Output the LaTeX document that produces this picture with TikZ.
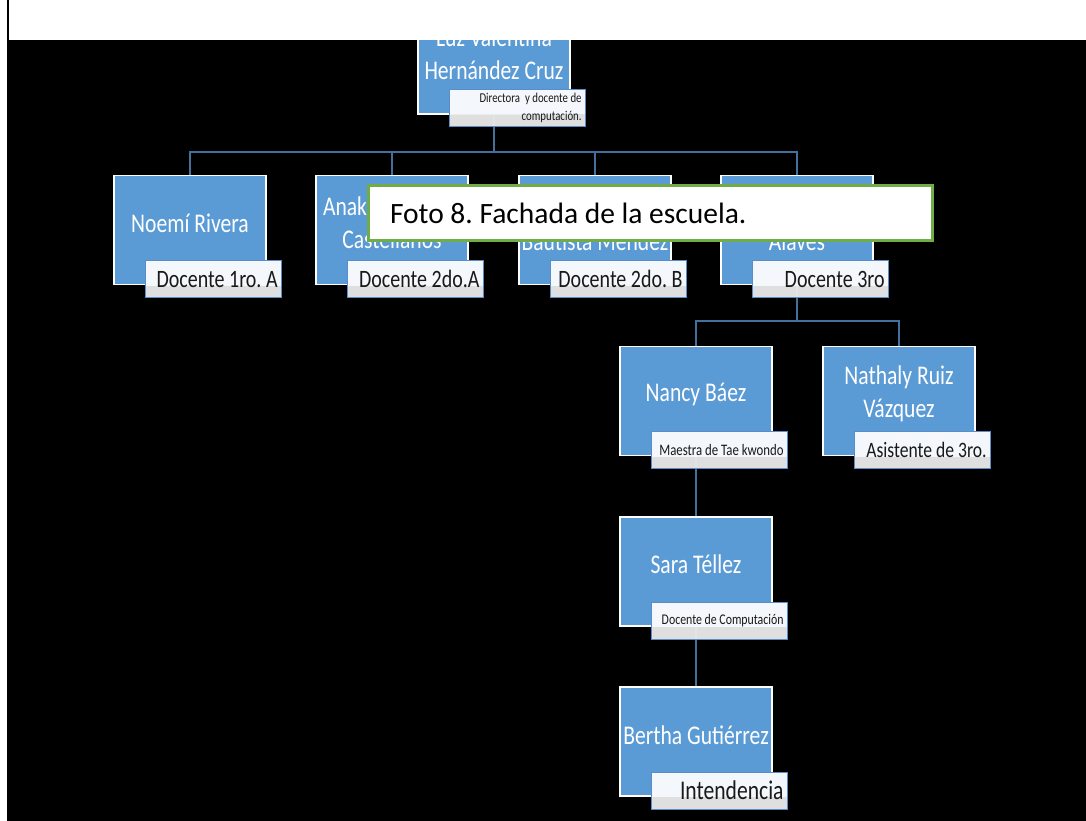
\documentclass[tikz,border=0pt]{standalone}
\usepackage{fontspec}
\setmainfont{Carlito}
\newfontfamily\chartfont[FakeStretch=0.8]{Carlito}
\frenchspacing
\definecolor{boxblue}{HTML}{5B9BD5}
\definecolor{linkblue}{HTML}{41719C}
\definecolor{tagtop}{HTML}{F5F8FD}
\definecolor{taggray}{HTML}{EBEBEB}
\definecolor{tagline}{HTML}{5A8CC8}
\definecolor{capgreen}{HTML}{70AD47}

\begin{document}
\begin{tikzpicture}[x=1pt,y=-1pt]
            \tikzstyle{Box} = [draw=white, line width=1.2pt, fill=boxblue, minimum width=152pt, minimum height=109pt, inner sep=0pt]
            \tikzstyle{Name} = [text=white, inner sep=0pt, align=center, font=\chartfont\fontsize{27}{33}\selectfont]
            \tikzstyle{Tag} = [draw=tagline, line width=1pt, fill=taggray, fill opacity=0.95, text opacity=1,
                text width=129pt, inner xsep=3.5pt, inner ysep=0pt, minimum height=37pt, align=flush right, anchor=south east,
                text=black!90, font=\chartfont\fontsize{#1}{#1}\selectfont,
                path picture={\fill[tagtop] (path picture bounding box.north west) rectangle ([yshift=12pt]path picture bounding box.south east);}
            ]
            \tikzstyle{Edge} = [line width=1.4pt, color=linkblue]
            \tikzstyle{Caption} = [draw=capgreen, line width=3pt, fill=white, minimum width=564pt, minimum height=54pt,
                text width=520pt, inner xsep=22pt, align=flush left, font=\fontsize{29.5}{35}\selectfont]
            \useasboundingbox (0,0) rectangle (1086,821);
            \fill[black] (6.5,0) rectangle (1086,821);
            % boxes
            \node[Box] (luz) at (494,59.5) {};
            \node[Box] (noemi) at (190,230) {};
            \node[Box] (anak) at (392,230) {};
            \node[Box] (bautista) at (595,230) {};
            \node[Box] (alaves) at (797,230) {};
            \node[Box] (nancy) at (696,401) {};
            \node[Box] (nathaly) at (899,401) {};
            \node[Box] (sara) at (696,571.5) {};
            \node[Box] (bertha) at (696,741.5) {};
            % connectors
            \coordinate (topBus) at (494,152);
            \coordinate (midBus) at (797,321);
            \draw[Edge] (luz) -- (topBus);
            \foreach \kid in {noemi, anak, bautista, alaves}
                \draw[Edge] (topBus) -| (\kid);
            \draw[Edge] (alaves) -- (midBus);
            \foreach \kid in {nancy, nathaly}
                \draw[Edge] (midBus) -| (\kid);
            \draw[Edge] (nancy) -- (sara);
            \draw[Edge] (sara) -- (bertha);
            % roles
            \node[Tag=13.5, font=\chartfont\fontsize{13.5}{18}\selectfont] (luzTag) at ([xshift=15pt,yshift=-12pt]luz.south east) {Directora~ y docente de\\computación.};
            \node[Tag=25] (noemiTag) at ([xshift=15pt,yshift=-13pt]noemi.south east) {Docente 1ro. A};
            \node[Tag=25] (anakTag) at ([xshift=15pt,yshift=-13pt]anak.south east) {Docente 2do.A};
            \node[Tag=25] (bautistaTag) at ([xshift=15pt,yshift=-13pt]bautista.south east) {Docente 2do. B};
            \node[Tag=25] (alavesTag) at ([xshift=15pt,yshift=-13pt]alaves.south east) {Docente 3ro};
            \node[Tag=16] (nancyTag) at ([xshift=15pt,yshift=-13pt]nancy.south east) {\mbox{Maestra de Tae kwondo}};
            \node[Tag=22] (nathalyTag) at ([xshift=15pt,yshift=-13pt]nathaly.south east) {Asistente de 3ro.};
            \node[Tag=14.8] (saraTag) at ([xshift=15pt,yshift=-13pt]sara.south east) {\mbox{Docente de Computación}};
            \node[Tag=27] (berthaTag) at ([xshift=15pt,yshift=-13pt]bertha.south east) {Intendencia};
            % names
            \node[Name] (luzName) at ([yshift=6pt]luz.center) {Luz Valentina\\Hernández Cruz};
            \node[Name] (noemiName) at ([yshift=7pt]noemi.center) {Noemí Rivera};
            \node[Name] (anakName) at ([yshift=7pt]anak.center) {\makebox[138pt][l]{Anak}\\Castellanos};
            \node[Name] (bautistaName) at ([yshift=7pt]bautista.center) {\strut\\Bautista Méndez};
            \node[Name] (alavesName) at ([yshift=7pt]alaves.center) {\strut\\Alaves};
            \node[Name] (nancyName) at ([yshift=7pt]nancy.center) {Nancy Báez};
            \node[Name] (nathalyName) at ([yshift=7.5pt]nathaly.center) {Nathaly Ruiz\\Vázquez};
            \node[Name] (saraName) at ([yshift=7pt]sara.center) {Sara Téllez};
            \node[Name] (berthaName) at ([yshift=6pt]bertha.center) {Bertha Gutiérrez};
            % caption over the chart
            \node[Caption] (foto) at (650,213) {Foto 8. Fachada de la escuela.};
            \fill[white] (9,0) rectangle (1086,40);
        \end{tikzpicture}
\end{document}
